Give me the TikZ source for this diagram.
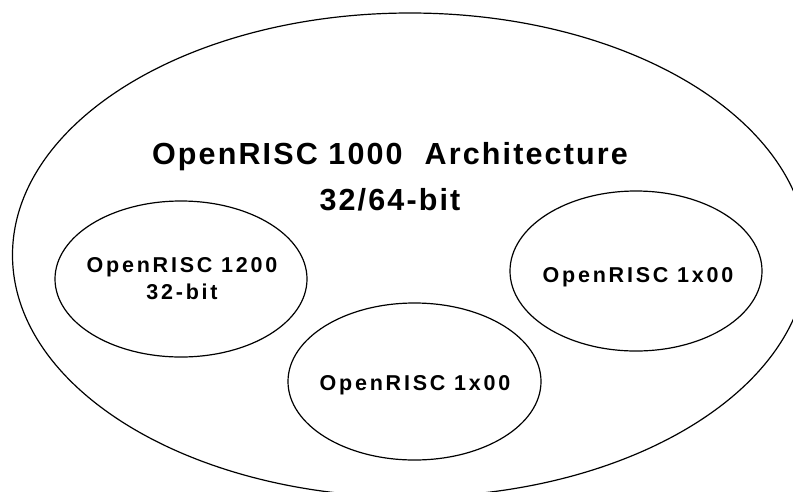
\documentclass[tikz,border=0pt]{standalone}
\usepackage{fontspec}
\setmainfont{Liberation Sans}
\newfontfamily\titlefont[LetterSpace=7]{Liberation Sans}
\newfontfamily\innerfont[LetterSpace=13]{Liberation Sans}
\usetikzlibrary{shapes.geometric}
\begin{document}
\begin{tikzpicture}[x=1pt,y=-1pt,
  oval/.style={draw, ellipse, line width=1.2pt, inner sep=0pt},
  ttl/.style={font=\titlefont\bfseries\fontsize{30.5}{36}\selectfont, anchor=base, inner sep=0pt},
  lbl/.style={font=\innerfont\bfseries\fontsize{21.5}{24}\selectfont, anchor=base, inner sep=0pt}]
\useasboundingbox (0,0) rectangle (793,491);
\begin{scope}
\clip (0,0) rectangle (793,491);
\node[oval, minimum width=795pt, minimum height=484pt] (outer) at (410,255) {};
\end{scope}
\node[oval, minimum width=252pt, minimum height=156pt] (left) at (181,279) {};
\node[oval, minimum width=252pt, minimum height=160pt] (right) at (636,271) {};
\node[oval, minimum width=253pt, minimum height=157pt] (bottom) at (414.5,381.5) {};
\node[ttl] (t1) at (390,164) {OpenRISC 1000\hspace{22pt}Architecture};
\node[ttl] (t2) at (390,210) {32/64-bit};
\node[lbl] (l1) at (182,272) {OpenRISC 1200};
\node[lbl] (l2) at (182,299) {32-bit};
\node[lbl] (r1) at (638,282) {OpenRISC 1x00};
\node[lbl] (b1) at (415,390) {OpenRISC 1x00};
\end{tikzpicture}
\end{document}
